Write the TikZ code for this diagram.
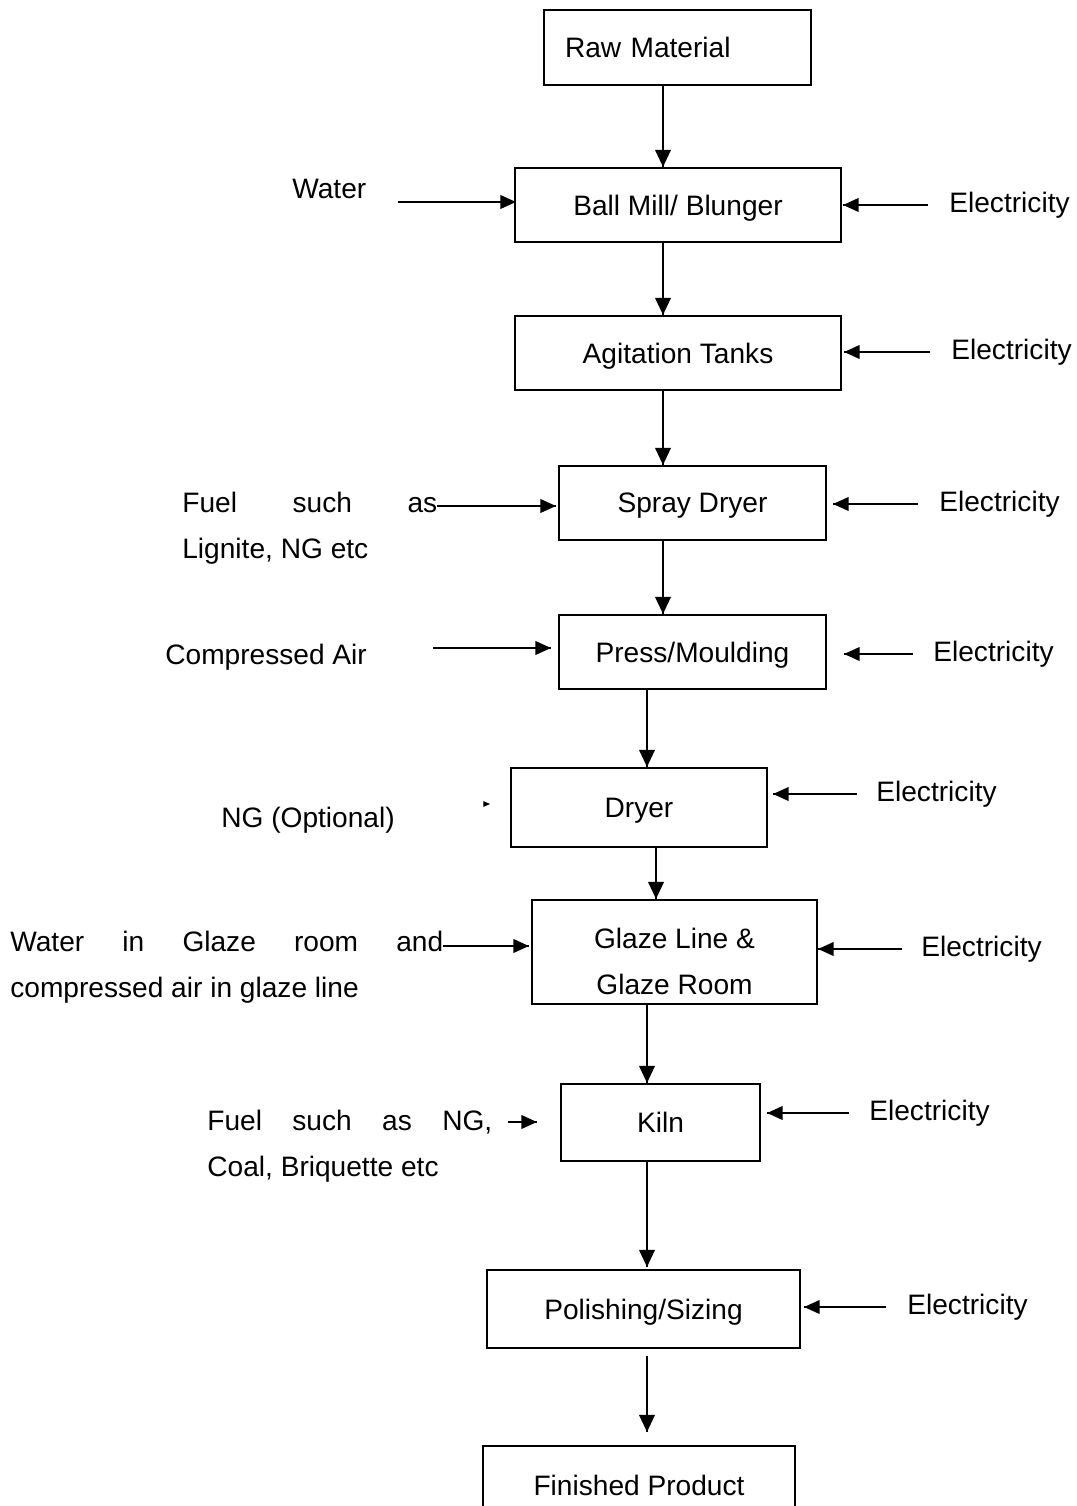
\documentclass[tikz,border=0pt]{standalone}
\usepackage{fontspec}
\setmainfont{Liberation Sans}
\usetikzlibrary{positioning, arrows.meta, decorations.markings, calc}

\begin{document}
\begin{tikzpicture}[%
		x=0.02cm, y=-0.02cm,
		font=\fontsize{16}{26}\selectfont,
		stage/.style={
			rectangle,
			line width=1.2pt,
			inner sep=0pt,
			text depth=0pt,
			align=center,
			black,
			draw
		},
		inlabel/.style={
			anchor=west,
			inner sep=0pt,
			align=left
		},
		elabel/.style={
			anchor=west,
			inner sep=0pt
		},
		flowarrow/.style={
			line width=1.1pt,
			decoration={markings,mark=at position 1 with {\arrow{Triangle[length=0.34cm,width=0.31cm]}}},
			postaction={decorate}
		},
		feedarrow/.style={
			line width=1.1pt,
			decoration={markings,mark=at position 1 with {\arrow{Triangle[length=0.31cm,width=0.27cm]}}},
			postaction={decorate}
		}]

		\useasboundingbox (0,0) rectangle (1077,1506);

		% PROCESS STAGES

		\node (raw) [stage, minimum width=5.34cm, minimum height=1.5cm, text width=4.5cm, inner xsep=0.42cm, align=left] at (677.5,47.5) {Raw Material};
		\node (ball) [stage, minimum width=6.52cm, minimum height=1.48cm] at (678,205) {Ball Mill/ Blunger};
		\node (agit) [stage, minimum width=6.52cm, minimum height=1.48cm] at (678,353) {Agitation Tanks};
		\node (spray) [stage, minimum width=5.34cm, minimum height=1.48cm] at (692.5,503) {Spray Dryer};
		\node (press) [stage, minimum width=5.34cm, minimum height=1.48cm] at (692.5,652) {Press/Moulding};
		\node (dryer) [stage, minimum width=5.12cm, minimum height=1.58cm] at (639,807.5) {Dryer};
		\node (glaze) [stage, minimum width=5.7cm, minimum height=2.08cm, text height=1.68cm] at (674.5,952) {Glaze Line \&\\ Glaze Room};
		\node (kiln) [stage, minimum width=3.98cm, minimum height=1.54cm] at (660.5,1122.5) {Kiln};
		\node (polish) [stage, minimum width=6.26cm, minimum height=1.56cm] at (643.5,1309) {Polishing/Sizing};
		\node (finished) [stage, minimum width=6.24cm, minimum height=1.56cm] at (639,1485) {Finished Product};

		% INPUTS ON THE LEFT

		\node (water) [inlabel] at (292,189) {Water};
		\node (fuel-a) [inlabel] at (182,528) {\makebox[5.1cm][s]{Fuel such as}\\Lignite, NG etc};
		\node (air) [inlabel] at (165,657) {Compressed Air};
		\node (ng) [inlabel] at (221,820) {NG (Optional)};
		\node (glaze-in) [inlabel] at (10,967) {\makebox[8.66cm][s]{Water in Glaze room and}\\compressed air in glaze line};
		\node (fuel-b) [inlabel] at (207,1146) {\makebox[5.7cm][s]{Fuel such as NG,}\\Coal, Briquette etc};

		\coordinate (water-out) at (398,202);
		\coordinate (fuel-a-out) at (437,506);
		\coordinate (air-out) at (433,648);
		\coordinate (ng-out) at (484,804);
		\coordinate (glaze-in-out) at (443,946);
		\coordinate (fuel-b-out) at (508,1122);

		% ELECTRICITY ON THE RIGHT

		\node (e-ball) [elabel] at (949,205) {Electricity};
		\node (e-agit) [elabel] at (951,352) {Electricity};
		\node (e-spray) [elabel] at (939,504) {Electricity};
		\node (e-press) [elabel] at (933,654) {Electricity};
		\node (e-dryer) [elabel] at (876,794) {Electricity};
		\node (e-glaze) [elabel] at (921,949) {Electricity};
		\node (e-kiln) [elabel] at (869,1113) {Electricity};
		\node (e-polish) [elabel] at (907,1307) {Electricity};

		% PROCESS LINE

		\draw[flowarrow] ($(raw.south)+(-14.5,0)$) -- ($(raw.south |- ball.north)+(-14.5,0)$);
		\draw[flowarrow] ($(ball.south)+(-15,0)$) -- ($(ball.south |- agit.north)+(-15,0)$);
		\draw[flowarrow] ($(agit.south)+(-15,0)$) -- ($(agit.south |- spray.north)+(-15,0)$);
		\draw[flowarrow] ($(spray.south)+(-29.5,0)$) -- ($(spray.south |- press.north)+(-29.5,0)$);
		\draw[flowarrow] ($(press.south)+(-45.5,0)$) -- ($(press.south |- dryer.north)+(-45.5,0)$);
		\draw[flowarrow] ($(dryer.south)+(17,0)$) -- ($(dryer.south |- glaze.north)+(17,0)$);
		\draw[flowarrow] ($(glaze.south)+(-27.5,0)$) -- ($(glaze.south |- kiln.north)+(-27.5,0)$);
		\draw[flowarrow] ($(kiln.south)+(-13.5,0)$) -- ($(kiln.south |- polish.north)+(-13.5,-2)$);
		\draw[flowarrow] ($(polish.south)+(3.5,7)$) -- ($(polish.south |- finished.north)+(3.5,-13)$);

		% INPUT LINES

		\draw[feedarrow] (water-out) -- ($(water-out -| ball.west)+(2,0)$);
		\draw[feedarrow] (fuel-a-out) -- ($(fuel-a-out -| spray.west)+(-2,0)$);
		\draw[feedarrow] (air-out) -- ($(air-out -| press.west)+(-7,0)$);
		\draw[line width=0.5pt,-{Triangle[length=0.13cm,width=0.11cm]}] (ng-out) -- ($(ng-out -| dryer.west)+(-20,0)$);
		\draw[feedarrow] (glaze-in-out) -- ($(glaze-in-out -| glaze.west)+(-2,0)$);
		\draw[feedarrow] (fuel-b-out) -- ($(fuel-b-out -| kiln.west)+(-23,0)$);

		% ELECTRICITY LINES

		\draw[feedarrow] ([xshift=-0.42cm]e-ball.west) -- ($(e-ball.west -| ball.east)+(1,0)$);
		\draw[feedarrow] ([xshift=-0.42cm]e-agit.west) -- ($(e-agit.west -| agit.east)+(2,0)$);
		\draw[feedarrow] ([xshift=-0.42cm]e-spray.west) -- ($(e-spray.west -| spray.east)+(6,0)$);
		\draw[feedarrow] ([xshift=-0.4cm]e-press.west) -- ($(e-press.west -| press.east)+(17,0)$);
		\draw[feedarrow] ([xshift=-0.38cm]e-dryer.west) -- ($(e-dryer.west -| dryer.east)+(5,0)$);
		\draw[feedarrow] ([xshift=-0.38cm]e-glaze.west) -- (e-glaze.west -| glaze.east);
		\draw[feedarrow] ([xshift=-0.4cm]e-kiln.west) -- ($(e-kiln.west -| kiln.east)+(6,0)$);
		\draw[feedarrow] ([xshift=-0.42cm]e-polish.west) -- ($(e-polish.west -| polish.east)+(3,0)$);
\end{tikzpicture}
\end{document}
